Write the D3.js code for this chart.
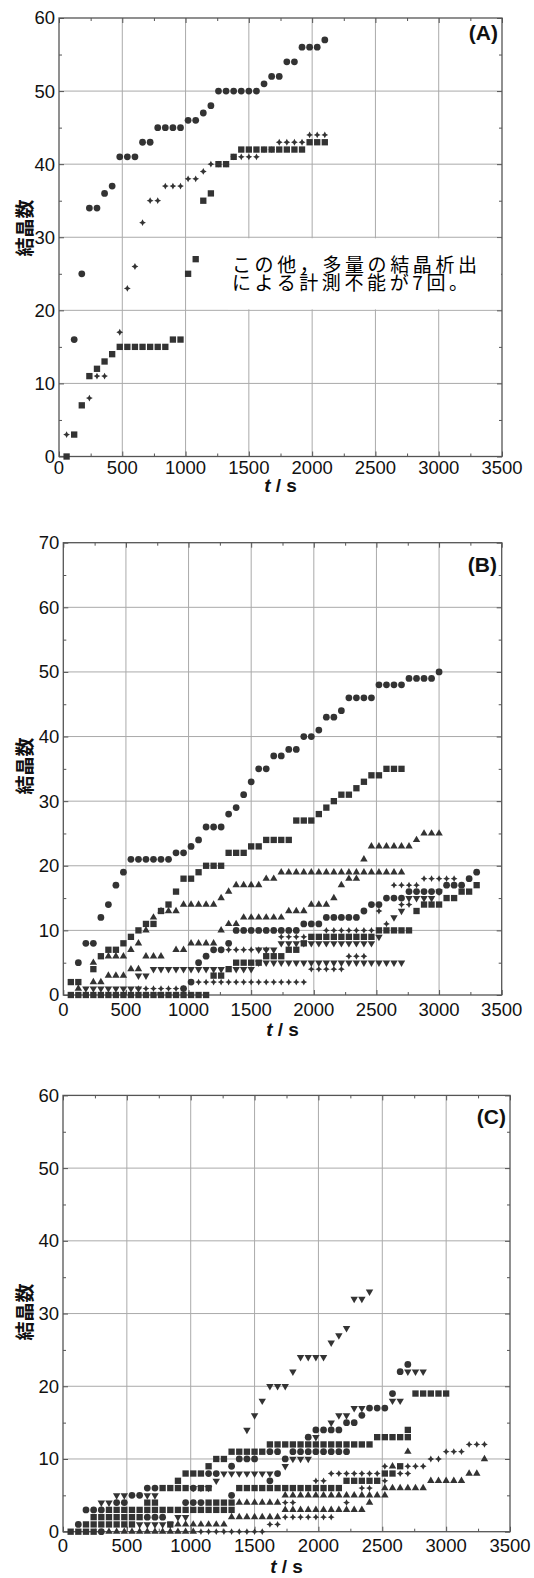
<!DOCTYPE html>
<html lang="ja">
<head>
<meta charset="UTF-8">
<title>結晶数</title>
<script src="https://cdn.jsdelivr.net/npm/d3@7"></script>
<style>
body { margin: 0; background: #fff; }
svg { display: block; font-family: "Liberation Sans", Arial, sans-serif; }
</style>
</head>
<body>
<svg id="chart" width="534" height="1578"></svg>
<script>

// ---------- data ----------
const xTicks = [0, 500, 1000, 1500, 2000, 2500, 3000, 3500];
const xMinor = [250, 750, 1250, 1750, 2250, 2750, 3250];
const yTicks60 = [0, 10, 20, 30, 40, 50, 60];
const yTicks70 = [0, 10, 20, 30, 40, 50, 60, 70];
const panelLabels = ["(A)", "(B)", "(C)"];
const yTitle = "結晶数";
const noteLines = ["この他，多量の結晶析出", "による計測不能が7回。"];

// panel A: [t (s), count]
const aCircle = [[120,16],[180,25],[240,34],[300,34],[360,36],[420,37],[480,41],[540,41],[600,41],[660,43],[720,43],[780,45],[840,45],[900,45],[960,45],[1020,46],[1080,46],[1140,47],[1200,48],[1260,50],[1320,50],[1380,50],[1440,50],[1500,50],[1560,50],[1620,51],[1680,52],[1740,52],[1800,54],[1860,54],[1920,56],[1980,56],[2040,56],[2100,57]];
const aSquare = [[60,0],[120,3],[180,7],[240,11],[300,12],[360,13],[420,14],[480,15],[540,15],[600,15],[660,15],[720,15],[780,15],[840,15],[900,16],[960,16],[1020,25],[1080,27],[1140,35],[1200,36],[1260,40],[1320,40],[1380,41],[1440,42],[1500,42],[1560,42],[1620,42],[1680,42],[1740,42],[1800,42],[1860,42],[1920,42],[1980,43],[2040,43],[2100,43]];
const aDiamond = [[60,3],[240,8],[300,11],[360,11],[480,17],[540,23],[600,26],[660,32],[720,35],[780,35],[840,37],[900,37],[960,37],[1020,38],[1080,38],[1140,39],[1200,40],[1260,40],[1320,40],[1380,41],[1440,41],[1500,41],[1560,41],[1620,42],[1680,42],[1740,43],[1800,43],[1860,43],[1920,43],[1980,44],[2040,44],[2100,44]];

// panels B and C: [count, [times at that count]]
const bCircle = [[5,[120]],[8,[180,240]],[12,[300]],[14,[360]],[17,[420]],[19,[480]],[21,[540,600,660,720,780,840]],[22,[900,960]],[23,[1020]],[24,[1080]],[26,[1140,1200,1260]],[28,[1320]],[29,[1380]],[31,[1440]],[33,[1500]],[35,[1560,1620]],[37,[1680,1740]],[38,[1800,1860]],[40,[1920,1980]],[41,[2040]],[43,[2100,2160]],[44,[2220]],[46,[2280,2340,2400,2460]],[48,[2520,2580,2640,2700]],[49,[2760,2820,2880,2940]],[50,[3000]],
  [1,[960]],[2,[1020]],[5,[1080]],[6,[1140]],[7,[1200,1260]],[8,[1320]],[10,[1380,1440,1500,1560,1620,1680,1740,1800,1860]],[11,[1920,1980,2040]],[12,[2100,2160,2220,2280,2340]],[13,[2400]],[14,[2460,2520]],[15,[2580,2640,2700]],[16,[2760,2820,2880,2940,3000]],[17,[3060,3120,3180]],[18,[3240]],[19,[3300]]];
const bSquare = [[2,[60,120]],[4,[240]],[6,[300]],[7,[360,420]],[8,[480]],[9,[540]],[10,[600]],[11,[660,720]],[13,[780]],[14,[840]],[16,[900]],[18,[960,1020]],[19,[1080]],[20,[1140,1200,1260]],[22,[1320,1380,1440]],[23,[1500,1560]],[24,[1620,1680,1740,1800]],[27,[1860,1920,1980]],[28,[2040]],[29,[2100]],[30,[2160]],[31,[2220,2280]],[32,[2340]],[33,[2400]],[34,[2460,2520]],[35,[2580,2640,2700]],
  [0,[60,120,180,240,300,360,420,480,540,600,660,720,780,840,900,960,1020,1080,1140]],[3,[1200,1260]],[4,[1320]],[5,[1380,1440,1500,1560]],[6,[1620,1680,1740]],[7,[1800,1860]],[8,[1920]],[9,[1980,2040,2100,2160,2220,2280,2340,2400,2460]],[10,[2520,2580,2640,2700,2760]],[13,[2820]],[14,[2880,2940,3000]],[15,[3060,3120]],[16,[3180,3240]],[17,[3300]]];
const bTriUp = [[1,[120]],[5,[240]],[6,[360,420,480]],[7,[540]],[8,[600]],[10,[660]],[12,[720]],[13,[780,840,900]],[14,[960,1020,1080,1140,1200]],[15,[1260]],[16,[1320]],[17,[1380,1440,1500,1560]],[18,[1620,1680]],[19,[1740,1800,1860,1920,1980,2040,2100,2160,2220,2280,2340,2400,2460,2520,2580,2640,2700]],
  [2,[240,300]],[3,[360,420,480]],[4,[540,600]],[6,[660,720,780]],[7,[900,960]],[8,[1020,1080,1140,1200]],[10,[1260]],[11,[1320,1380]],[12,[1440,1500,1560,1620,1680,1740]],[13,[1800,1860,1920]],[14,[1980,2040,2100]],[15,[2160]],[17,[2220]],[18,[2280,2340]],[21,[2400]],[23,[2460,2520,2580,2640,2700,2760]],[24,[2820]],[25,[2880,2940,3000]]];
const bTriDown = [[1,[180,240,300,360,420,480,540,600]],[3,[600,660]],[4,[720,780,840,900,960,1020,1080,1140,1200,1260,1380,1440,1500]],[5,[1560,1620,1680,1740,1800,1860,1920,1980,2040,2100,2160,2220,2280,2340,2400,2460,2520,2580,2640,2700]],
  [7,[1560,1620,1680]],[8,[1740,1800,1860,1920,1980,2040,2100,2160,2220,2280,2340,2400,2460]],[9,[2520]],[12,[2640]],[13,[2700]],[15,[2760,2820,2880,2940]],[16,[3000]]];
const bDiamond = [[1,[600,660,720,780,840,900,960]],[2,[1080,1140,1200,1260,1320,1380,1440,1500,1560,1620,1680,1740,1800,1860,1920]],[4,[1980,2040,2100,2160,2220]],[6,[2280,2340,2400]],
  [7,[1260,1320,1380,1440,1500,1560,1620]],[9,[1740,1800,1860,1920]],[10,[2100,2160,2220,2280,2340,2400,2460]],[11,[2580]],[13,[2520]],[14,[2700,2760]],[17,[2640,2700,2760,2820]],[18,[2880,2940,3000,3060,3120]]];

const cCircle = [[0,[300]],[1,[120]],[2,[660,720,780]],[3,[180,240,300]],[4,[420,480,960,1020,1080]],[5,[540,600,1320]],[6,[660,720,1020]],[7,[1620]],[8,[1140,1200,1680]],[9,[1320]],[10,[1380,1440,1500,1740]],[11,[1620,1680,1800,1860,1920,1980,2040,2100,2160,2220]],[13,[1920]],[14,[1980,2040,2100,2160]],[15,[2220,2280]],[16,[2340]],[17,[2400,2460,2520]],[19,[2580]],[22,[2640]],[23,[2700]]];
const cSquare = [[0,[60,120,180,240]],[1,[180,240,300,360,420,480,540,840]],[2,[240,300,360,420,480,540,600]],[3,[360,420,480,540,600,660,720,780,840,900,960,1020,1080,1140,1200,1260,1320]],[4,[660,720,1140,1200,1260,1320]],[6,[780,840,900,960,1080,1140,1380,1440,1500,1560,1620,1680,1740,1800,1860,1920,1980,2040,2100,2160]],[7,[900,2220,2280,2340,2400,2460]],[8,[960,1020,1080,2520,2580]],[9,[1140,2640]],[10,[1200,1260]],[11,[1320,1380,1440,1500,1560]],[12,[1620,1680,1740,1800,1860,1920,1980,2040,2100,2160,2220,2280,2340,2400]],[13,[2460,2520,2580,2640,2700]],[14,[2700]],[19,[2760,2820,2880,2940,3000]]];
const cTriUp = [[0,[360,420,480,540,600,660,720,780,840,900,960,1020]],[1,[900,960,1020,1080,1140,1200,1260]],[2,[1320,1380,1440,1500,1560,1620,1680]],[3,[1740,1800,1860,1920,1980,2040,2100,2160,2220,2280,2340]],[4,[1380,1440,1500,1560,1620,1680,2400]],[5,[1740,1800,1860,1920,1980,2040,2100,2160,2220,2280,2340,2400,2460,2520]],[6,[2520,2580,2640,2700,2760,2820]],[7,[2880,2940,3000,3060,3120]],[8,[3180,3240]],[9,[2580]],[10,[3300]],[11,[2700]]];
const cTriDown = [[1,[600,660,720,780,840]],[2,[900,960]],[4,[300,360]],[5,[420,480,660,720]],[6,[1020,1080,1140]],[7,[1200]],[8,[1260,1320,1380,1440,1500,1560,1620]],[9,[1740]],[10,[1800,1860,1920]],[13,[1980]],[14,[1440]],[15,[2100]],[16,[1500,2160,2220]],[17,[2280,2340]],[18,[1560,2580,2640]],[20,[1620,1680,1740]],[22,[1800,2700,2760,2820]],[24,[1860,1920,1980,2040]],[26,[2100]],[27,[2160]],[28,[2220]],[32,[2280,2340]],[33,[2400]]];
const cDiamond = [[0,[1080,1140,1200,1260,1320,1380,1440,1500,1560]],[1,[1620,1680]],[2,[1740,1800,1860,1920,1980,2040,2100]],[4,[1740,1800,2220]],[6,[2340,2400]],[7,[1980,2040,2520]],[8,[2100,2160,2220,2280,2340,2400,2460,2640,2700]],[9,[2520,2700,2760,2820]],[10,[2880,2940]],[11,[3000,3060,3120]],[12,[3180,3240,3300]]];

// ---------- drawing ----------
const rows = list => list.flatMap(([v, ts]) => ts.map(t => [t, v]));

// small four-pointed star used for the diamond markers
const symStar = {
  draw(ctx, size) {
    const r = Math.sqrt(size) * 0.62, a = r * 0.34;
    ctx.moveTo(0, -r); ctx.lineTo(a, -a); ctx.lineTo(r, 0); ctx.lineTo(a, a);
    ctx.lineTo(0, r); ctx.lineTo(-a, a); ctx.lineTo(-r, 0); ctx.lineTo(-a, -a);
    ctx.closePath();
  }
};

const markers = {
  circle:   { type: d3.symbolCircle,   size: 36, rot: 0 },
  square:   { type: d3.symbolSquare,   size: 40, rot: 0 },
  triUp:    { type: d3.symbolTriangle, size: 24, rot: 0 },
  triDown:  { type: d3.symbolTriangle, size: 24, rot: 180 },
  diamond:  { type: symStar,           size: 30, rot: 0 }
};

const panels = [
  { label: panelLabels[0], left: 59, right: 502, top: 18, bottom: 456.5, yTicks: yTicks60,
    xLabelY: 467.5, titleBase: 492, yTitleY: 228, labelX: 498, labelY: 40,
    series: [["square", aSquare], ["diamond", aDiamond], ["circle", aCircle]], note: true },
  { label: panelLabels[1], left: 63.3, right: 501.7, top: 542.7, bottom: 995, yTicks: yTicks70,
    xLabelY: 1009.5, titleBase: 1036, yTitleY: 766, labelX: 497, labelY: 572,
    series: [["square", rows(bSquare)], ["triUp", rows(bTriUp)], ["triDown", rows(bTriDown)], ["diamond", rows(bDiamond)], ["circle", rows(bCircle)]] },
  { label: panelLabels[2], left: 63, right: 510, top: 1095.4, bottom: 1531.7, yTicks: yTicks60,
    xLabelY: 1546, titleBase: 1573, yTitleY: 1312, labelX: 506, labelY: 1124,
    series: [["square", rows(cSquare)], ["triUp", rows(cTriUp)], ["triDown", rows(cTriDown)], ["diamond", rows(cDiamond)], ["circle", rows(cCircle)]] }
];

const svg = d3.select("#chart");

panels.forEach(p => {
  const yMax = p.yTicks[p.yTicks.length - 1];
  const x = d3.scaleLinear().domain([0, 3500]).range([p.left, p.right]);
  const y = d3.scaleLinear().domain([0, yMax]).range([p.bottom, p.top]);
  const yMinor = p.yTicks.slice(0, -1).map(v => v + 5);
  const g = svg.append("g");

  // grid
  g.append("g").selectAll("line").data(xTicks.slice(1, -1)).join("line")
    .attr("x1", d => x(d)).attr("x2", d => x(d)).attr("y1", p.top).attr("y2", p.bottom)
    .attr("stroke", "#aaa").attr("stroke-width", 1);
  g.append("g").selectAll("line").data(p.yTicks.slice(1, -1)).join("line")
    .attr("y1", d => y(d)).attr("y2", d => y(d)).attr("x1", p.left).attr("x2", p.right)
    .attr("stroke", "#aaa").attr("stroke-width", 1);

  // inward ticks on all four sides
  const tickAxis = (axis, tr) => {
    const a = g.append("g").attr("transform", tr).call(axis);
    a.select(".domain").remove();
    a.selectAll("line").attr("stroke", "#555");
    a.selectAll("text").remove();
  };
  tickAxis(d3.axisBottom(x).tickValues(xTicks).tickSize(-5), `translate(0,${p.bottom})`);
  tickAxis(d3.axisBottom(x).tickValues(xMinor).tickSize(-3), `translate(0,${p.bottom})`);
  tickAxis(d3.axisTop(x).tickValues(xTicks).tickSize(-5), `translate(0,${p.top})`);
  tickAxis(d3.axisTop(x).tickValues(xMinor).tickSize(-3), `translate(0,${p.top})`);
  tickAxis(d3.axisLeft(y).tickValues(p.yTicks).tickSize(-5), `translate(${p.left},0)`);
  tickAxis(d3.axisLeft(y).tickValues(yMinor).tickSize(-3), `translate(${p.left},0)`);
  tickAxis(d3.axisRight(y).tickValues(p.yTicks).tickSize(-5), `translate(${p.right},0)`);
  tickAxis(d3.axisRight(y).tickValues(yMinor).tickSize(-3), `translate(${p.right},0)`);

  // note box (panel A): one text block, two tight lines as in the source figure
  if (p.note) {
    g.append("rect").attr("x", 228).attr("y", y(30) + 1).attr("width", p.right - 229)
      .attr("height", y(20) - y(30) - 2).attr("fill", "#fff");
    const note = g.append("text")
      .style("font-family", "'Noto Sans CJK JP', sans-serif")
      .style("font-size", "19px").attr("fill", "#000");
    note.selectAll("tspan").data(noteLines).join("tspan")
      .attr("x", 232).attr("y", (d, i) => 272 + i * 17.5)
      .attr("textLength", (d, i) => i === 0 ? 245 : 236)
      .attr("lengthAdjust", "spacing")
      .text(d => d);
  }

  // frame
  g.append("rect").attr("x", p.left).attr("y", p.top)
    .attr("width", p.right - p.left).attr("height", p.bottom - p.top)
    .attr("fill", "none").attr("stroke", "#555").attr("stroke-width", 1.3);

  // markers
  p.series.forEach(([kind, pts]) => {
    const m = markers[kind];
    const sym = d3.symbol().type(m.type).size(m.size);
    g.append("g").selectAll("path").data(pts).join("path")
      .attr("d", sym)
      .attr("transform", d => `translate(${x(d[0])},${y(d[1])}) rotate(${m.rot})`)
      .attr("fill", "#333");
  });

  // tick labels
  g.append("g").selectAll("text").data(xTicks).join("text")
    .attr("x", d => x(d)).attr("y", p.xLabelY).attr("dy", "0.35em")
    .attr("text-anchor", "middle").style("font-size", "18.5px").attr("fill", "#111")
    .text(d => d);
  g.append("g").selectAll("text").data(p.yTicks).join("text")
    .attr("x", p.left - 4).attr("y", d => y(d)).attr("dy", "0.35em")
    .attr("text-anchor", "end").style("font-size", "18.5px").attr("fill", "#111")
    .text(d => d);

  // axis titles
  const xt = g.append("text").attr("x", (p.left + p.right) / 2).attr("y", p.titleBase)
    .attr("text-anchor", "middle")
    .style("font-size", "19px").style("font-weight", "bold").attr("fill", "#111");
  xt.append("tspan").style("font-style", "italic").text("t");
  xt.append("tspan").text(" / s");

  g.append("text")
    .attr("transform", `translate(25,${p.yTitleY}) rotate(-90)`)
    .attr("dy", "0.35em").attr("text-anchor", "middle")
    .style("font-family", "'Noto Sans CJK JP', sans-serif")
    .style("font-size", "19px").style("font-weight", "bold").attr("fill", "#111")
    .text(yTitle);

  // panel label
  g.append("text").attr("x", p.labelX).attr("y", p.labelY).attr("text-anchor", "end")
    .style("font-size", "21px").style("font-weight", "bold").attr("fill", "#111")
    .text(p.label);
});

</script>
</body>
</html>
